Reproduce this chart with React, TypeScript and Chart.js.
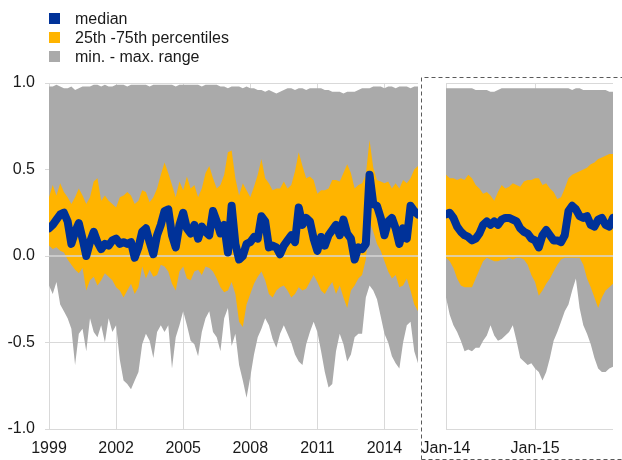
import React, { useEffect, useRef } from "react";
import { Chart, registerables } from "chart.js";

Chart.register(...registerables);

// ---------- Left panel: 1999 - mid 2015, one point every two months ----------
const leftMedian = [
  0.16, 0.18, 0.21, 0.24, 0.25, 0.20, 0.07, 0.14, 0.19, 0.10, 0.00, 0.08, 0.14, 0.08, 0.04, 0.07, 0.06, 0.09, 0.10, 0.07, 0.08, 0.07, 0.08, -0.01, 0.05,
  0.14, 0.16, 0.08, 0.01, 0.12, 0.18, 0.26, 0.27, 0.12, 0.05, 0.18, 0.25, 0.16, 0.13, 0.18, 0.10, 0.17, 0.14, 0.12, 0.26, 0.20, 0.13, 0.18, 0.02,
  0.29, 0.07, -0.02, 0.00, 0.07, 0.08, 0.11, 0.10, 0.23, 0.20, 0.05, 0.06, 0.05, 0.01, 0.06, 0.09, 0.12, 0.08, 0.28, 0.18, 0.22, 0.20, 0.10, 0.03, 0.11, 0.06,
  0.12, 0.15, 0.18, 0.12, 0.21, 0.13, 0.10, -0.02, 0.05, 0.04, 0.07, 0.47, 0.30, 0.29, 0.22, 0.12, 0.20, 0.22, 0.16, 0.07, 0.16, 0.10, 0.29, 0.26, 0.24,
];
const leftP75 = [
  0.34, 0.41, 0.35, 0.42, 0.37, 0.34, 0.30, 0.34, 0.39, 0.35, 0.30, 0.34, 0.43, 0.45, 0.32, 0.35, 0.32, 0.30, 0.28, 0.34, 0.35, 0.37, 0.35, 0.30, 0.32,
  0.38, 0.37, 0.31, 0.34, 0.39, 0.47, 0.54, 0.48, 0.41, 0.34, 0.43, 0.38, 0.46, 0.39, 0.41, 0.34, 0.39, 0.48, 0.52, 0.45, 0.39, 0.41, 0.47, 0.60,
  0.61, 0.45, 0.35, 0.42, 0.38, 0.34, 0.40, 0.47, 0.56, 0.45, 0.42, 0.38, 0.39, 0.39, 0.43, 0.39, 0.41, 0.49, 0.60, 0.52, 0.45, 0.46, 0.44, 0.36, 0.38, 0.38,
  0.39, 0.44, 0.44, 0.43, 0.48, 0.53, 0.48, 0.39, 0.41, 0.42, 0.47, 0.67, 0.51, 0.44, 0.43, 0.42, 0.43, 0.39, 0.42, 0.39, 0.44, 0.42, 0.45, 0.50, 0.52,
];
const leftP25 = [
  0.06, 0.04, 0.05, 0.03, 0.02, -0.02, -0.05, -0.08, -0.10, -0.07, -0.20, -0.14, -0.12, -0.17, -0.14, -0.10, -0.12, -0.14, -0.18, -0.20, -0.24, -0.20, -0.16, -0.22, -0.18,
  -0.06, -0.13, -0.08, -0.12, -0.11, -0.05, -0.06, -0.09, -0.16, -0.20, -0.09, -0.06, -0.13, -0.14, -0.09, -0.08, -0.11, -0.06, -0.07, -0.09, -0.13, -0.18, -0.21, -0.20,
  -0.15, -0.22, -0.38, -0.41, -0.28, -0.22, -0.16, -0.12, -0.09, -0.14, -0.22, -0.24, -0.20, -0.18, -0.17, -0.20, -0.24, -0.22, -0.18, -0.20, -0.19, -0.15, -0.11, -0.15, -0.20, -0.22,
  -0.18, -0.15, -0.22, -0.17, -0.24, -0.30, -0.20, -0.17, -0.13, -0.11, -0.02, 0.20, 0.14, 0.07, 0.03, -0.03, -0.09, -0.13, -0.11, -0.18, -0.17, -0.13, -0.20, -0.28, -0.32,
];
const leftMin = [
  -0.17, -0.22, -0.15, -0.28, -0.32, -0.36, -0.42, -0.63, -0.45, -0.42, -0.55, -0.36, -0.44, -0.47, -0.40, -0.50, -0.36, -0.44, -0.40, -0.60, -0.72, -0.74, -0.77, -0.72, -0.67,
  -0.51, -0.45, -0.49, -0.59, -0.44, -0.40, -0.44, -0.40, -0.65, -0.47, -0.40, -0.32, -0.40, -0.49, -0.51, -0.58, -0.44, -0.36, -0.32, -0.44, -0.47, -0.55, -0.36, -0.30,
  -0.52, -0.45, -0.63, -0.72, -0.82, -0.70, -0.57, -0.47, -0.42, -0.36, -0.40, -0.48, -0.53, -0.45, -0.40, -0.45, -0.50, -0.57, -0.61, -0.63, -0.51, -0.44, -0.38, -0.44, -0.55, -0.67,
  -0.76, -0.74, -0.55, -0.45, -0.51, -0.61, -0.57, -0.47, -0.45, -0.45, -0.24, -0.17, -0.20, -0.25, -0.35, -0.45, -0.50, -0.58, -0.62, -0.65, -0.50, -0.40, -0.38, -0.55, -0.62,
];
const leftMax = [
  0.98, 0.98, 0.99, 0.98, 0.97, 0.97, 0.98, 0.96, 0.97, 0.98, 0.98, 0.98, 0.99, 0.99, 0.98, 0.99, 0.98, 0.98, 0.99, 0.99, 0.99, 0.98, 0.99, 0.99, 0.99,
  0.99, 0.99, 0.98, 0.99, 0.99, 0.99, 0.99, 0.99, 0.99, 0.98, 0.99, 0.99, 0.99, 0.99, 0.99, 0.99, 0.98, 0.99, 0.99, 0.99, 0.99, 0.98, 0.98, 0.97,
  0.98, 0.98, 0.98, 0.97, 0.98, 0.97, 0.97, 0.96, 0.96, 0.95, 0.96, 0.95, 0.94, 0.95, 0.96, 0.97, 0.97, 0.96, 0.97, 0.97, 0.96, 0.97, 0.97, 0.97, 0.97, 0.96,
  0.96, 0.95, 0.95, 0.95, 0.94, 0.95, 0.95, 0.95, 0.96, 0.97, 0.97, 0.97, 0.98, 0.98, 0.98, 0.97, 0.98, 0.98, 0.97, 0.98, 0.98, 0.98, 0.97, 0.98, 0.98,
];
const leftDates = leftMedian.map((_, i) => 1999 + i / 6);
const leftTickYears = [1999, 2002, 2005, 2008, 2011, 2014];

// ---------- Right panel: Jan 2014 - Nov 2015, twice a month ----------
const rightMedian = [
  0.24, 0.25, 0.22, 0.17, 0.14, 0.12, 0.11, 0.09, 0.10, 0.13,
  0.18, 0.20, 0.18, 0.20, 0.18, 0.21, 0.22, 0.22, 0.21, 0.20,
  0.16, 0.14, 0.13, 0.10, 0.09, 0.05, 0.12, 0.15, 0.12, 0.09,
  0.09, 0.08, 0.12, 0.26, 0.29, 0.27, 0.23, 0.22, 0.23, 0.18,
  0.17, 0.21, 0.22, 0.18, 0.17, 0.22,
];
const rightP75 = [
  0.47, 0.45, 0.45, 0.44, 0.45, 0.44, 0.47, 0.45, 0.41, 0.39,
  0.36, 0.37, 0.35, 0.32, 0.37, 0.41, 0.39, 0.40, 0.42, 0.41,
  0.40, 0.43, 0.44, 0.44, 0.45, 0.45, 0.41, 0.42, 0.39, 0.37,
  0.33, 0.34, 0.39, 0.45, 0.47, 0.48, 0.49, 0.50, 0.51, 0.53,
  0.54, 0.56, 0.57, 0.58, 0.59, 0.59,
];
const rightP25 = [
  -0.01, -0.03, -0.07, -0.13, -0.17, -0.18, -0.18, -0.18, -0.13, -0.08,
  -0.03, -0.01, -0.02, -0.03, -0.03, -0.02, -0.02, -0.01, -0.02, -0.01,
  -0.01, -0.02, -0.05, -0.11, -0.15, -0.23, -0.20, -0.16, -0.13, -0.09,
  -0.05, -0.02, -0.01, -0.01, -0.01, -0.01, -0.01, -0.05, -0.13, -0.18,
  -0.24, -0.30, -0.24, -0.20, -0.18, -0.16,
];
const rightMin = [
  -0.24, -0.34, -0.40, -0.44, -0.49, -0.55, -0.54, -0.55, -0.53, -0.53,
  -0.49, -0.46, -0.40, -0.46, -0.49, -0.48, -0.46, -0.44, -0.40, -0.49,
  -0.59, -0.61, -0.63, -0.62, -0.65, -0.67, -0.72, -0.67, -0.59, -0.49,
  -0.44, -0.38, -0.32, -0.28, -0.20, -0.13, -0.30, -0.40, -0.45, -0.51,
  -0.59, -0.65, -0.67, -0.67, -0.65, -0.64,
];
const rightMax = [
  0.97, 0.97, 0.97, 0.97, 0.97, 0.97, 0.97, 0.97, 0.96, 0.96,
  0.96, 0.96, 0.95, 0.95, 0.96, 0.97, 0.97, 0.97, 0.97, 0.97,
  0.97, 0.97, 0.97, 0.97, 0.97, 0.97, 0.97, 0.97, 0.97, 0.97,
  0.97, 0.97, 0.97, 0.97, 0.96, 0.97, 0.97, 0.96, 0.96, 0.96,
  0.96, 0.96, 0.96, 0.96, 0.95, 0.95,
];
const rightDates = rightMedian.map((_, i) => 2014 + i / 24);
const rightTickYears = [2014, 2015];
const rightTickLabels = ["Jan-14", "Jan-15"];

const legendItems = [
  { label: "median", color: "#003299" },
  { label: "25th -75th percentiles", color: "#FFB400" },
  { label: "min. - max. range", color: "#AAAAAA" },
];

const FONT = "'Liberation Sans', Arial, Helvetica, sans-serif";
const BLUE = "#003299";
const ORANGE = "#FFB400";
const GREY = "#AAAAAA";
const GRID = "#D9D9D9";
const TEXT = "#1a1a1a";

const pts = (dates: number[], vals: number[]) => vals.map((v, i) => ({ x: dates[i], y: v }));

const zeroLinePlugin = {
  id: "zeroLine",
  beforeDatasetDraw(chart: any, args: any) {
    if (args.index !== 0) return;
    const { ctx, chartArea, scales } = chart;
    const y = scales.y.getPixelForValue(0);
    ctx.save();
    ctx.strokeStyle = "#D6D6D6";
    ctx.lineWidth = 1.5;
    ctx.beginPath();
    ctx.moveTo(chartArea.left, y);
    ctx.lineTo(chartArea.right, y);
    ctx.stroke();
    ctx.restore();
  },
};

function buildConfig(
  dates: number[],
  med: number[],
  p25: number[],
  p75: number[],
  mn: number[],
  mx: number[],
  xMin: number,
  xMax: number,
  tickValues: number[],
  tickLabels: string[],
  showY: boolean,
  padding: any
): any {
  return {
    type: "line",
    data: {
      datasets: [
        {
          label: "median",
          data: pts(dates, med),
          borderColor: BLUE,
          borderWidth: 8,
          borderCapStyle: "round",
          borderJoinStyle: "round",
          pointRadius: 0,
          fill: false,
          tension: 0,
        },
        {
          label: "p75",
          data: pts(dates, p75),
          borderWidth: 0,
          borderColor: "rgba(0,0,0,0)",
          backgroundColor: ORANGE,
          pointRadius: 0,
          fill: 2,
          tension: 0,
        },
        {
          label: "p25",
          data: pts(dates, p25),
          borderWidth: 0,
          borderColor: "rgba(0,0,0,0)",
          pointRadius: 0,
          fill: false,
          tension: 0,
        },
        {
          label: "max",
          data: pts(dates, mx),
          borderWidth: 0,
          borderColor: "rgba(0,0,0,0)",
          backgroundColor: GREY,
          pointRadius: 0,
          fill: 4,
          tension: 0,
        },
        {
          label: "min",
          data: pts(dates, mn),
          borderWidth: 0,
          borderColor: "rgba(0,0,0,0)",
          pointRadius: 0,
          fill: false,
          tension: 0,
        },
      ],
    },
    options: {
      responsive: false,
      animation: false,
      events: [],
      layout: { padding },
      plugins: {
        legend: { display: false },
        tooltip: { enabled: false },
      },
      scales: {
        x: {
          type: "linear",
          min: xMin,
          max: xMax,
          border: { display: false },
          grid: { color: GRID, lineWidth: 1, drawTicks: false },
          afterBuildTicks: (s: any) => {
            s.ticks = tickValues.map((v) => ({ value: v }));
          },
          afterFit: (s: any) => {
            s.height = 31;
          },
          ticks: {
            padding: 10,
            maxRotation: 0,
            autoSkip: false,
            color: TEXT,
            font: { family: FONT, size: 16 },
            callback: (v: any) => {
              const i = tickValues.indexOf(v);
              return i >= 0 ? tickLabels[i] : "";
            },
          },
        },
        y: {
          type: "linear",
          min: -1,
          max: 1,
          border: { display: false },
          grid: { color: GRID, lineWidth: 1, drawTicks: showY, tickLength: 4 },
          afterFit: (s: any) => {
            s.width = showY ? 49 : 0;
          },
          ticks: {
            display: showY,
            stepSize: 0.5,
            padding: 10,
            color: TEXT,
            font: { family: FONT, size: 16 },
            callback: (v: any) => Number(v).toFixed(1),
          },
        },
      },
    },
    plugins: [zeroLinePlugin],
  };
}

export default function App() {
  const leftRef = useRef<HTMLCanvasElement | null>(null);
  const rightRef = useRef<HTMLCanvasElement | null>(null);

  useEffect(() => {
    const left = new Chart(
      leftRef.current as HTMLCanvasElement,
      buildConfig(
        leftDates, leftMedian, leftP25, leftP75, leftMin, leftMax,
        1999, 2015.5, leftTickYears, leftTickYears.map(String), true,
        { top: 83, right: 2, left: 0, bottom: 0 }
      )
    );
    const right = new Chart(
      rightRef.current as HTMLCanvasElement,
      buildConfig(
        rightDates, rightMedian, rightP25, rightP75, rightMin, rightMax,
        2014, 2015.875, rightTickYears, rightTickLabels, false,
        { top: 83, right: 9, left: 40, bottom: 0 }
      )
    );
    return () => {
      left.destroy();
      right.destroy();
    };
  }, []);

  return (
    <div
      style={{
        position: "fixed",
        left: 0,
        top: 0,
        width: 622,
        height: 460,
        background: "#ffffff",
        overflow: "hidden",
        fontFamily: FONT,
      }}
    >
      <canvas ref={leftRef} width={420} height={460} style={{ position: "absolute", left: 0, top: 0 }} />
      <canvas ref={rightRef} width={216} height={460} style={{ position: "absolute", left: 406, top: 0 }} />
      <div style={{ position: "absolute", left: 49, top: 9 }}>
        {legendItems.map((it) => (
          <div key={it.label} style={{ display: "flex", alignItems: "center", height: 19 }}>
            <div style={{ width: 11, height: 11, background: it.color }} />
            <span style={{ marginLeft: 15, fontSize: 16, color: TEXT, lineHeight: "19px", whiteSpace: "nowrap" }}>
              {it.label}
            </span>
          </div>
        ))}
      </div>
      <svg
        width={622}
        height={460}
        style={{ position: "absolute", left: 0, top: 0, pointerEvents: "none" }}
      >
        <path
          d="M421.5 459.5 V77.5 H622 M421.5 459.5 H622"
          fill="none"
          stroke="#5a5a5a"
          strokeWidth={1}
          strokeDasharray="4 3"
        />
      </svg>
    </div>
  );
}
